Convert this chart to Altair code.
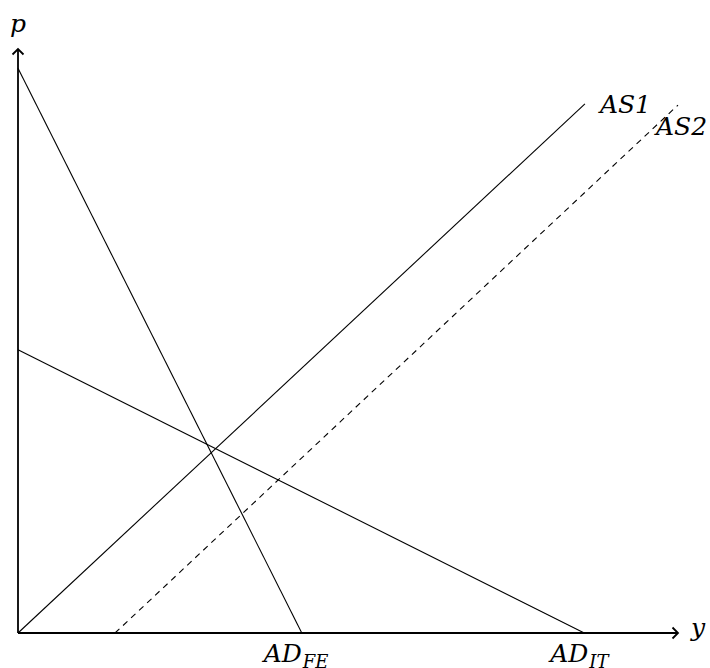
import altair as alt
import pandas as pd

# Curve endpoints (x = output y, y = price level p)
curve_names = ["AD_FE", "AD_IT", "AS1", "AS2"]
curve_x0 = [0.0, 0.0, 0.0, 1.47]
curve_y0 = [9.67, 4.85, 0.0, 0.0]
curve_x1 = [4.3, 8.58, 8.59, 10.0]
curve_y1 = [0.0, 0.0, 9.06, 9.04]
curve_dashed = [False, False, False, True]

# Axis extents
x_max = 10.0
y_max = 10.0

rows = []
for name, x0, y0, x1, y1, d in zip(curve_names, curve_x0, curve_y0, curve_x1, curve_y1, curve_dashed):
    rows.append({"curve": name, "x": x0, "y": y0, "o": 0, "dashed": d})
    rows.append({"curve": name, "x": x1, "y": y1, "o": 1, "dashed": d})
curves = pd.DataFrame(rows)

axes = pd.DataFrame({
    "axis": ["x", "x", "y", "y"],
    "x": [0.0, x_max, 0.0, 0.0],
    "y": [0.0, 0.0, 0.0, y_max],
    "o": [0, 1, 0, 1],
})

xs = alt.Scale(domain=[0, x_max], nice=False, zero=True)
ys = alt.Scale(domain=[0, y_max], nice=False, zero=True)
X = lambda f="x": alt.X(f"{f}:Q", scale=xs, axis=None)
Y = lambda f="y": alt.Y(f"{f}:Q", scale=ys, axis=None)

FONT = "DejaVu Serif"
FS = 25

solid = alt.Chart(curves[~curves.dashed]).mark_line(color="black", strokeWidth=1.1).encode(
    x=X(), y=Y(), detail="curve:N", order="o:Q"
)
dashed = alt.Chart(curves[curves.dashed]).mark_line(
    color="black", strokeWidth=1.1, strokeDash=[6, 5]
).encode(x=X(), y=Y(), detail="curve:N", order="o:Q")

axis_lines = alt.Chart(axes).mark_line(color="black", strokeWidth=1.8).encode(
    x=X(), y=Y(), detail="axis:N", order="o:Q"
)

up_tip = alt.Chart(pd.DataFrame({"x": [0.0], "y": [y_max]})).mark_point(
    shape="M -1 1 L 0 0 L 1 1", size=121, filled=False, color="black", strokeWidth=1.8, opacity=1
).encode(x=X(), y=Y())
right_tip = alt.Chart(pd.DataFrame({"x": [x_max], "y": [0.0]})).mark_point(
    shape="M -1 -1 L 0 0 L -1 1", size=121, filled=False, color="black", strokeWidth=1.8, opacity=1
).encode(x=X(), y=Y())


def label(text, x, y, dx, dy, align="left", size=FS):
    return alt.Chart(pd.DataFrame({"x": [x], "y": [y], "t": [text]})).mark_text(
        font=FONT, fontStyle="italic", fontSize=size, align=align, baseline="alphabetic",
        dx=dx, dy=dy, color="black"
    ).encode(x=X(), y=Y(), text="t:N")


labels = [
    label("p", 0.0, y_max, 0, -17, align="center"),
    label("y", x_max, 0.0, 13, 3),
    label("AS1", curve_x1[2], curve_y1[2], 15, 9),
    label("AS2", curve_x1[3], curve_y1[3], -22, 30),
    label("AD", curve_x1[0], 0.0, 0, 29, align="right"),
    label("FE", curve_x1[0], 0.0, 1, 35, size=18),
    label("AD", curve_x1[1], 0.0, 4, 29, align="right"),
    label("IT", curve_x1[1], 0.0, 5, 35, size=18),
]

chart = alt.layer(axis_lines, solid, dashed, up_tip, right_tip, *labels).properties(
    width=660,
    height=584,
    background="white",
    autosize=alt.AutoSizeParams(type="none"),
    padding={"left": 18, "top": 49, "right": 32, "bottom": 35},
).configure_view(strokeWidth=0, stroke="transparent")

chart.save("out.html", embed_options={"renderer": "svg", "actions": False})
